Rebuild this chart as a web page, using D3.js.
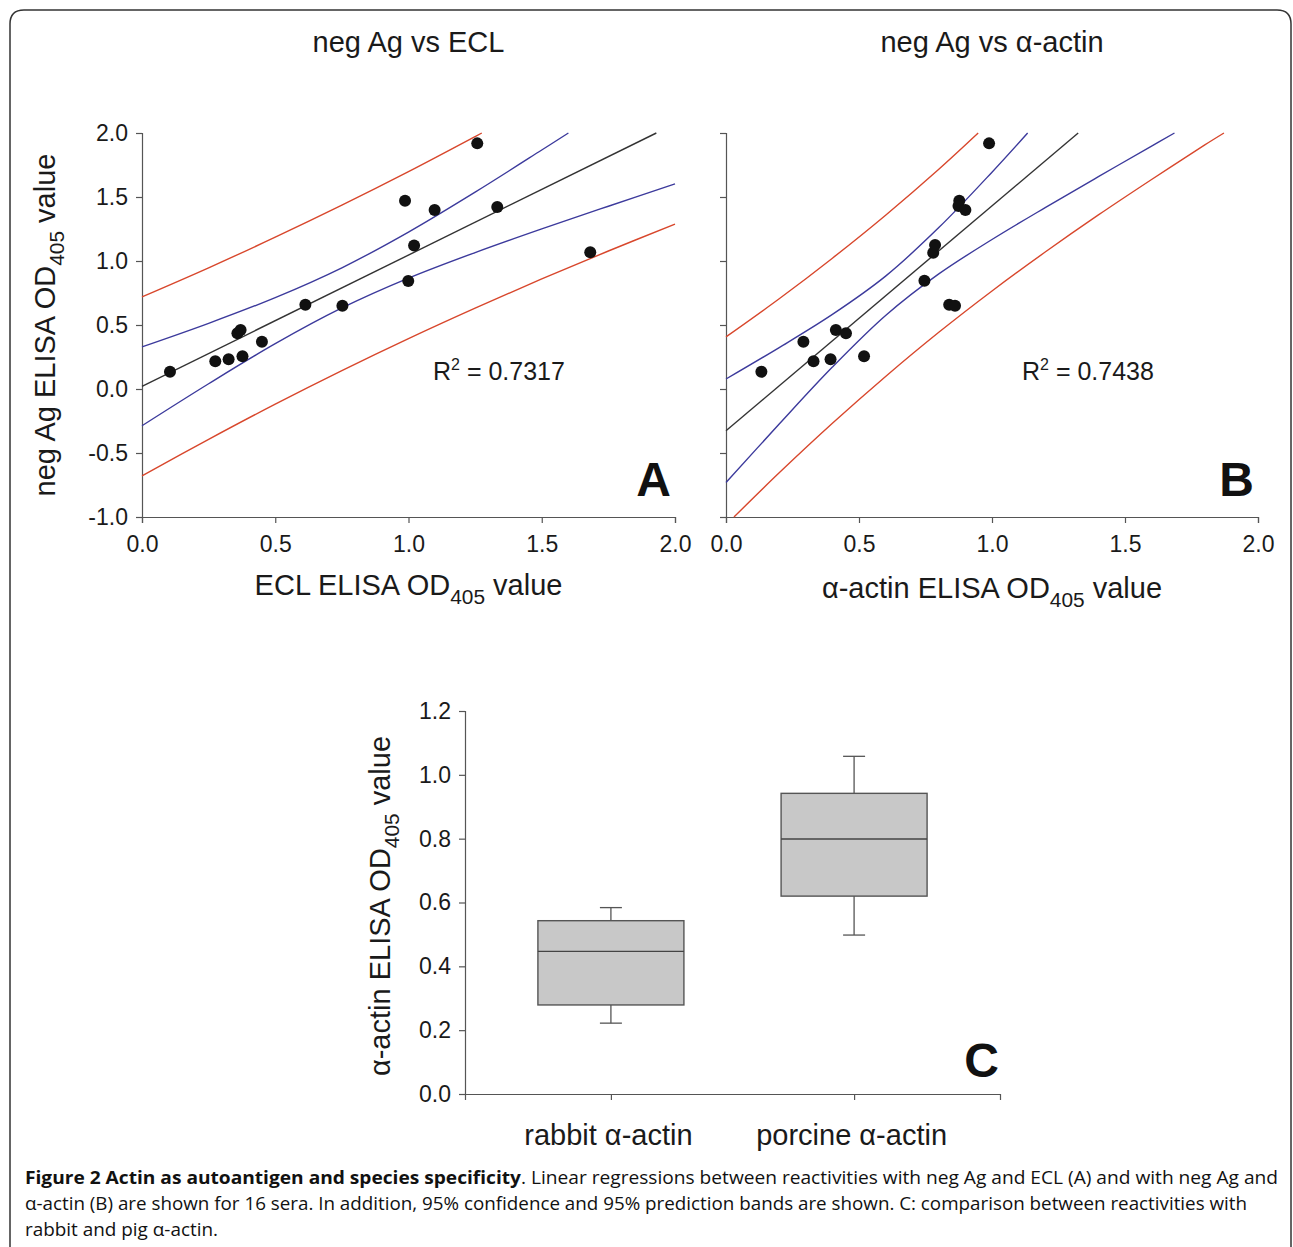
<!DOCTYPE html>
<html><head><meta charset="utf-8">
<script src="https://cdn.jsdelivr.net/npm/d3@7"></script>
<style>
body{margin:0;background:#fff;}
svg{display:block;font-family:"Liberation Sans",Arial,sans-serif;}
</style></head><body>
<svg id="chart" width="1293" height="1247"></svg>
<script>
// ---------- DATA ----------
// Panel A: ECL (x) vs neg Ag (y)
const eclX   = [0.105,0.275,0.325,0.377,0.358,0.370,0.450,0.613,0.752,0.987,1.098,1.333,1.021,0.999,1.258,1.682];
const negAgA = [0.135,0.216,0.232,0.255,0.435,0.461,0.370,0.659,0.651,1.471,1.398,1.422,1.122,0.844,1.919,1.068];
// Panel B: alpha-actin (x) vs neg Ag (y)
const actinX = [0.133,0.291,0.329,0.393,0.413,0.451,0.519,0.746,0.779,0.786,0.839,0.861,0.877,0.874,0.900,0.989];
const negAgB = [0.135,0.370,0.216,0.232,0.461,0.435,0.255,0.846,1.065,1.125,0.659,0.651,1.471,1.430,1.398,1.919];

// Regression lines and bands ([x, y])
const lineA      = [[0,0.021],[1.93,2.0]];
const confUpperA = [[0,0.329],[0.25,0.513],[0.5,0.714],[0.75,0.947],[1.0,1.226],[1.25,1.538],[1.5,1.867],[1.6,2.0]];
const confLowerA = [[0,-0.287],[0.25,0.041],[0.5,0.354],[0.75,0.633],[1.0,0.866],[1.25,1.066],[1.5,1.251],[1.75,1.428],[2.0,1.602]];
const predUpperA = [[0,0.720],[0.25,0.947],[0.5,1.186],[0.75,1.436],[1.0,1.698],[1.25,1.972],[1.275,2.0]];
const predLowerA = [[0,-0.678],[0.25,-0.393],[0.5,-0.118],[0.75,0.144],[1.0,0.394],[1.25,0.632],[1.5,0.860],[1.75,1.078],[2.0,1.288]];

const lineB      = [[0,-0.326],[1.324,2.0]];
const confUpperB = [[0,0.078],[0.2,0.324],[0.4,0.583],[0.6,0.882],[0.8,1.261],[1.0,1.694],[1.134,2.0]];
const confLowerB = [[0,-0.730],[0.2,-0.274],[0.4,0.171],[0.6,0.574],[0.8,0.899],[1.0,1.168],[1.2,1.417],[1.4,1.659],[1.6,1.898],[1.686,2.0]];
const predUpperB = [[0,0.407],[0.2,0.705],[0.4,1.022],[0.6,1.358],[0.8,1.717],[0.948,2.0]];
const predLowerB = [[0.03,-1.0],[0.2,-0.655],[0.4,-0.268],[0.6,0.098],[0.8,0.443],[1.0,0.766],[1.2,1.070],[1.4,1.360],[1.6,1.637],[1.8,1.907],[1.872,2.0]];

const xTicksAB = [0, 0.5, 1.0, 1.5, 2.0];
const yTicksAB = [-1.0, -0.5, 0, 0.5, 1.0, 1.5, 2.0];

// Panel C: box plot
const categoriesC = ["rabbit α-actin", "porcine α-actin"];
const whiskerLowC  = [0.222, 0.498];
const q1C          = [0.279, 0.620];
const medianC      = [0.447, 0.799];
const q3C          = [0.543, 0.942];
const whiskerHighC = [0.584, 1.058];
const yTicksC = [0, 0.2, 0.4, 0.6, 0.8, 1.0, 1.2];

// ---------- DRAW ----------
const svg = d3.select("#chart");
const RED = "#d8472c", BLUE = "#3c3a9c", BLACK = "#333", AX = "#555", TXT = "#1a1a1a";
const fmt1 = d => d.toFixed(1);

svg.append("path")
  .attr("d", "M10,1262 L10,24 Q10,10 24,10 L1277,10 Q1291,10 1291,24 L1291,1262")
  .attr("fill", "none").attr("stroke", "#333").attr("stroke-width", 1.5);

function styleAxis(g, fs) {
  g.selectAll(".domain").attr("stroke", AX).attr("stroke-width", 1.2);
  g.selectAll(".tick line").attr("stroke", AX).attr("stroke-width", 1.2);
  g.selectAll(".tick text").attr("fill", TXT).style("font-size", fs + "px")
    .style("font-family", '"Liberation Sans",Arial,sans-serif');
}

function subLabel(sel, pre, sub, post, fs) {
  sel.append("tspan").text(pre);
  sel.append("tspan").text(sub).style("font-size", (fs * 0.72) + "px").attr("dy", fs * 0.3);
  sel.append("tspan").text(post).attr("dy", -fs * 0.3);
}

function scatterPanel(o) {
  const x = d3.scaleLinear().domain([0, 2]).range(o.xr);
  const y = d3.scaleLinear().domain([-1, 2]).range([517, 133]);
  const g = svg.append("g");

  const ya = g.append("g").attr("transform", `translate(${o.xr[0]},0)`)
    .call(d3.axisLeft(y).tickValues(yTicksAB).tickSizeOuter(0).tickSize(6).tickPadding(8)
      .tickFormat(o.yLabels ? fmt1 : () => ""));
  styleAxis(ya, 23);
  const xa = g.append("g").attr("transform", `translate(0,517)`)
    .call(d3.axisBottom(x).tickValues(xTicksAB).tickSizeOuter(0).tickSize(6).tickPadding(13)
      .tickFormat(fmt1));
  styleAxis(xa, 23);

  const line = d3.line().x(d => x(d[0])).y(d => y(d[1])).curve(d3.curveCatmullRom.alpha(0.5));
  o.curves.forEach(c => {
    g.append("path").attr("d", line(c.data)).attr("fill", "none")
      .attr("stroke", c.color).attr("stroke-width", 1.4);
  });
  g.selectAll("circle.pt").data(o.xs).enter().append("circle")
    .attr("class", "pt")
    .attr("cx", d => x(d)).attr("cy", (d, i) => y(o.ys[i])).attr("r", 6)
    .attr("fill", "#111");

  g.append("text").attr("x", (o.xr[0] + o.xr[1]) / 2).attr("y", 52)
    .attr("text-anchor", "middle").style("font-size", "29px").attr("fill", TXT).text(o.title);

  const xl = g.append("text").attr("x", (o.xr[0] + o.xr[1]) / 2).attr("y", o.xlY)
    .attr("text-anchor", "middle").style("font-size", "29px").attr("fill", TXT);
  subLabel(xl, o.xlabel, "405", " value", 29);

  const r2 = g.append("text").attr("x", o.r2x).attr("y", 380).style("font-size", "25px").attr("fill", TXT);
  r2.append("tspan").text("R");
  r2.append("tspan").text("2").style("font-size", "16px").attr("dy", -10);
  r2.append("tspan").text(" = " + o.r2).attr("dy", 10);

  g.append("text").attr("x", o.xr[1] - 4).attr("y", 496).attr("text-anchor", "end")
    .style("font-size", "48px").style("font-weight", "bold").attr("fill", "#111").text(o.letter);
}

scatterPanel({
  xr: [142, 675], xs: eclX, ys: negAgA, yLabels: true,
  curves: [
    {data: predUpperA, color: RED}, {data: predLowerA, color: RED},
    {data: confUpperA, color: BLUE}, {data: confLowerA, color: BLUE},
    {data: lineA, color: BLACK}],
  title: "neg Ag vs ECL", xlabel: "ECL ELISA OD", xlY: 595, r2: "0.7317", r2x: 433, letter: "A"
});
scatterPanel({
  xr: [726, 1258], xs: actinX, ys: negAgB, yLabels: false,
  curves: [
    {data: predUpperB, color: RED}, {data: predLowerB, color: RED},
    {data: confUpperB, color: BLUE}, {data: confLowerB, color: BLUE},
    {data: lineB, color: BLACK}],
  title: "neg Ag vs α-actin", xlabel: "α-actin ELISA OD", xlY: 598, r2: "0.7438", r2x: 1022, letter: "B"
});

// y label panel A
const ylA = svg.append("text").attr("transform", "translate(55,325) rotate(-90)")
  .attr("text-anchor", "middle").style("font-size", "29px").attr("fill", TXT);
subLabel(ylA, "neg Ag ELISA OD", "405", " value", 29);

// ---------- Panel C ----------
const xC = d3.scalePoint().domain(categoriesC).range([465, 1000]).padding(0.6);
const yC = d3.scaleLinear().domain([0, 1.2]).range([1094, 711]);
const gC = svg.append("g");
const yaC = gC.append("g").attr("transform", "translate(465,0)")
  .call(d3.axisLeft(yC).tickValues(yTicksC).tickSizeOuter(0).tickSize(6).tickPadding(8).tickFormat(fmt1));
styleAxis(yaC, 23);
const xaC = gC.append("g").attr("transform", "translate(0,1094)")
  .call(d3.axisBottom(xC).tickSizeOuter(0).tickSize(6).tickPadding(24));
styleAxis(xaC, 29);
xaC.selectAll(".tick text").attr("dx", -3);

const bw = 146, cw = 22;
categoriesC.forEach((c, i) => {
  const cx = xC(c);
  gC.append("line").attr("x1", cx).attr("x2", cx).attr("y1", yC(whiskerHighC[i])).attr("y2", yC(q3C[i]))
    .attr("stroke", AX).attr("stroke-width", 1.3);
  gC.append("line").attr("x1", cx).attr("x2", cx).attr("y1", yC(q1C[i])).attr("y2", yC(whiskerLowC[i]))
    .attr("stroke", AX).attr("stroke-width", 1.3);
  gC.append("line").attr("x1", cx - cw / 2).attr("x2", cx + cw / 2).attr("y1", yC(whiskerHighC[i])).attr("y2", yC(whiskerHighC[i]))
    .attr("stroke", AX).attr("stroke-width", 1.3);
  gC.append("line").attr("x1", cx - cw / 2).attr("x2", cx + cw / 2).attr("y1", yC(whiskerLowC[i])).attr("y2", yC(whiskerLowC[i]))
    .attr("stroke", AX).attr("stroke-width", 1.3);
  gC.append("rect").attr("x", cx - bw / 2).attr("width", bw)
    .attr("y", yC(q3C[i])).attr("height", yC(q1C[i]) - yC(q3C[i]))
    .attr("fill", "#c8c8c8").attr("stroke", "#555").attr("stroke-width", 1.4);
  gC.append("line").attr("x1", cx - bw / 2).attr("x2", cx + bw / 2).attr("y1", yC(medianC[i])).attr("y2", yC(medianC[i]))
    .attr("stroke", "#444").attr("stroke-width", 1.4);
});
const ylC = svg.append("text").attr("transform", "translate(390,906) rotate(-90)")
  .attr("text-anchor", "middle").style("font-size", "29px").attr("fill", TXT);
subLabel(ylC, "α-actin ELISA OD", "405", " value", 29);
gC.append("text").attr("x", 999).attr("y", 1077).attr("text-anchor", "end")
  .style("font-size", "48px").style("font-weight", "bold").attr("fill", "#111").text("C");

// ---------- Caption ----------
const capFont = '"Open Sans",sans-serif';
const c1 = svg.append("text").attr("x", 25).attr("y", 1184).style("font-family", capFont).style("font-size", "18px")
  .attr("fill", "#111").attr("textLength", 1253).attr("lengthAdjust", "spacingAndGlyphs");
c1.append("tspan").style("font-weight", "bold").text("Figure 2 Actin as autoantigen and species specificity");
c1.append("tspan").text(". Linear regressions between reactivities with neg Ag and ECL (A) and with neg Ag and");
svg.append("text").attr("x", 25).attr("y", 1210).style("font-family", capFont).style("font-size", "18px")
  .attr("fill", "#111").attr("textLength", 1222).attr("lengthAdjust", "spacingAndGlyphs")
  .text("α-actin (B) are shown for 16 sera. In addition, 95% confidence and 95% prediction bands are shown. C: comparison between reactivities with");
svg.append("text").attr("x", 25).attr("y", 1236).style("font-family", capFont).style("font-size", "18px")
  .attr("fill", "#111").attr("textLength", 193).attr("lengthAdjust", "spacingAndGlyphs")
  .text("rabbit and pig α-actin.");
</script>
</body></html>
